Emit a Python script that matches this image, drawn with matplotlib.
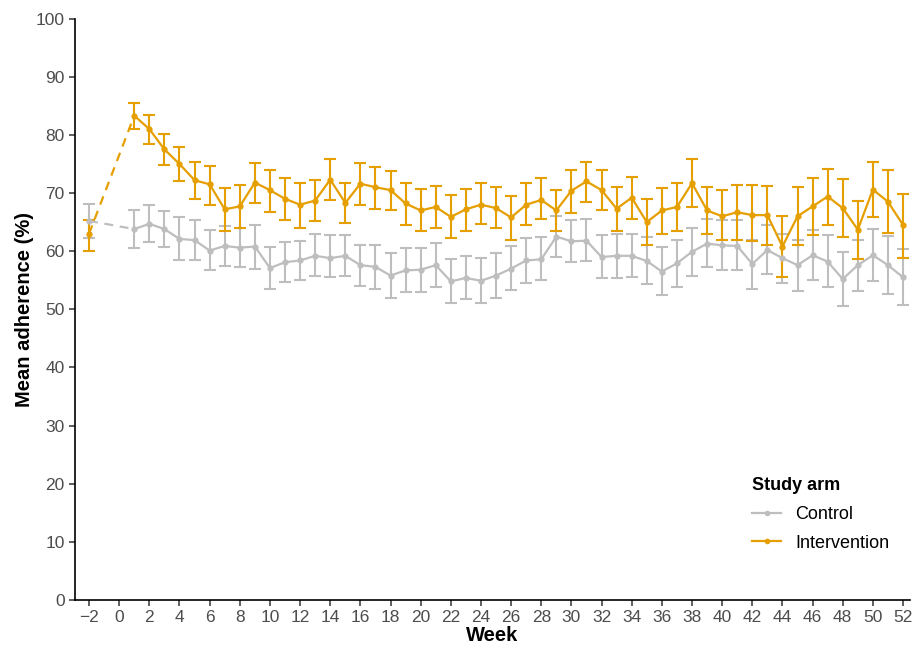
import matplotlib.pyplot as plt
import numpy as np

plt.rcParams['font.family'] = ['Liberation Sans', 'DejaVu Sans']

weeks = [-2] + list(range(1, 53))

int_mean = [63.0, 83.3, 81.0, 77.5, 75.0, 72.2, 71.5, 67.2, 67.7, 71.8, 70.5,
            69.0, 68.0, 68.7, 72.3, 68.3, 71.6, 71.0, 70.5, 68.2, 67.0,
            67.6, 65.9, 67.2, 68.0, 67.4, 65.8, 68.0, 68.8, 67.0, 70.4,
            72.0, 70.5, 67.3, 69.2, 65.0, 67.0, 67.6, 71.7, 67.0, 66.0,
            66.7, 66.2, 66.2, 60.8, 66.0, 67.7, 69.4, 67.4, 63.7, 70.6,
            68.5, 64.5]
int_lo = [60.0, 81.0, 78.5, 74.8, 72.0, 69.0, 68.0, 63.5, 64.0, 68.3, 66.8,
          65.3, 64.0, 65.2, 68.8, 64.8, 68.0, 67.2, 67.0, 64.5, 63.4,
          64.0, 62.2, 63.5, 64.7, 64.0, 62.0, 64.5, 65.5, 63.4, 66.6,
          68.5, 67.0, 63.4, 65.5, 61.0, 63.0, 63.5, 67.6, 63.0, 62.0,
          62.0, 61.7, 61.0, 55.5, 61.0, 62.8, 64.5, 62.5, 58.7, 65.9,
          63.2, 58.8]
int_hi = [65.3, 85.5, 83.5, 80.2, 78.0, 75.3, 74.7, 70.8, 71.3, 75.1, 74.0,
          72.6, 71.7, 72.2, 75.9, 71.8, 75.1, 74.4, 73.8, 71.8, 70.7,
          71.2, 69.7, 70.7, 71.8, 71.1, 69.5, 71.7, 72.5, 70.5, 74.0,
          75.4, 74.0, 71.1, 72.8, 69.0, 70.8, 71.7, 75.8, 71.0, 70.6,
          71.4, 71.3, 71.2, 66.0, 71.0, 72.6, 74.1, 72.4, 68.7, 75.4,
          74.0, 69.9]

ctl_mean = [65.2, 63.8, 64.7, 63.8, 62.1, 61.9, 60.1, 60.9, 60.6, 60.8, 57.1,
            58.1, 58.4, 59.2, 58.8, 59.2, 57.6, 57.3, 55.8, 56.7, 56.8,
            57.6, 54.8, 55.4, 54.9, 55.8, 57.0, 58.4, 58.6, 62.5, 61.7,
            61.8, 59.0, 59.2, 59.2, 58.3, 56.5, 57.9, 59.9, 61.3, 61.0,
            60.9, 57.8, 60.2, 58.8, 57.6, 59.3, 58.2, 55.2, 57.6, 59.3,
            57.6, 55.5]
ctl_lo = [62.3, 60.6, 61.5, 60.8, 58.5, 58.5, 56.7, 57.4, 57.2, 57.0, 53.5,
          54.7, 55.0, 55.8, 55.5, 55.8, 54.0, 53.5, 52.0, 53.0, 53.0,
          53.9, 51.0, 51.7, 51.0, 52.0, 53.3, 54.6, 55.0, 59.0, 58.2,
          58.3, 55.3, 55.4, 55.5, 54.3, 52.4, 53.8, 55.7, 57.2, 56.8,
          56.7, 53.5, 56.0, 54.6, 53.2, 55.0, 53.8, 50.5, 53.2, 54.8,
          52.6, 50.8]
ctl_hi = [68.1, 67.1, 68.0, 66.9, 65.8, 65.3, 63.6, 64.4, 64.0, 64.5, 60.7,
          61.6, 61.8, 62.9, 62.7, 62.8, 61.1, 61.0, 59.6, 60.6, 60.5,
          61.4, 58.7, 59.2, 58.8, 59.7, 60.9, 62.3, 62.4, 66.0, 65.3,
          65.6, 62.7, 63.0, 63.0, 62.4, 60.7, 62.0, 64.0, 65.5, 65.3,
          65.3, 62.0, 64.5, 63.0, 62.0, 63.6, 62.7, 59.8, 62.0, 63.8,
          62.6, 60.4]

arms = [('Control', ctl_mean, ctl_lo, ctl_hi, '#BEBEBE'),
        ('Intervention', int_mean, int_lo, int_hi, '#E69F00')]

fig = plt.figure(figsize=(9.15, 6.46), dpi=100)
ax = fig.add_axes([0.082, 0.0712, 0.9125, 0.9])

x = np.array(weeks)
for name, m, lo, hi, col in arms:
    m = np.array(m)
    err = [m - np.array(lo), np.array(hi) - m]
    ax.errorbar(x, m, yerr=err, fmt='none', ecolor=col, elinewidth=1.5,
                capsize=4, capthick=1.5, zorder=2)
    # dashed link from baseline to week 1
    ax.plot(x[:2], m[:2], color=col, lw=1.6, ls=(0, (4, 3)), zorder=3)
    ax.plot(x[1:], m[1:], color=col, lw=1.6, zorder=3)
    ax.plot(x, m, 'o', color=col, ms=3.5, zorder=4)
    ax.plot([], [], '-o', color=col, lw=1.6, ms=3, label=name)

ax.set_xlim(-2.93, 52.46)
ax.set_ylim(0, 100)
ax.set_xticks(range(-2, 53, 2))
ax.set_xticklabels(['\u22122' if t < 0 else str(t) for t in range(-2, 53, 2)])
ax.set_yticks(range(0, 101, 10))

for s in ['top', 'right']:
    ax.spines[s].set_visible(False)
for s in ['left', 'bottom']:
    ax.spines[s].set_linewidth(1.2)
ax.tick_params(labelsize=12.5, labelcolor='#4D4D4D', length=4, width=1.1,
               color='#333333')
ax.tick_params(axis='x', pad=3)

ax.set_xlabel('Week', fontsize=14.5, fontweight='bold', labelpad=1)
ax.set_ylabel('Mean adherence (%)', fontsize=14.5, fontweight='bold', labelpad=1)

leg = ax.legend(title='Study arm', loc='lower right', bbox_to_anchor=(0.995, 0.055),
                frameon=False, fontsize=13, handlelength=1.6, labelspacing=0.65,
                title_fontproperties={'weight': 'bold', 'size': 13})
leg._legend_box.align = 'left'

fig.savefig('out.png', dpi=100)
